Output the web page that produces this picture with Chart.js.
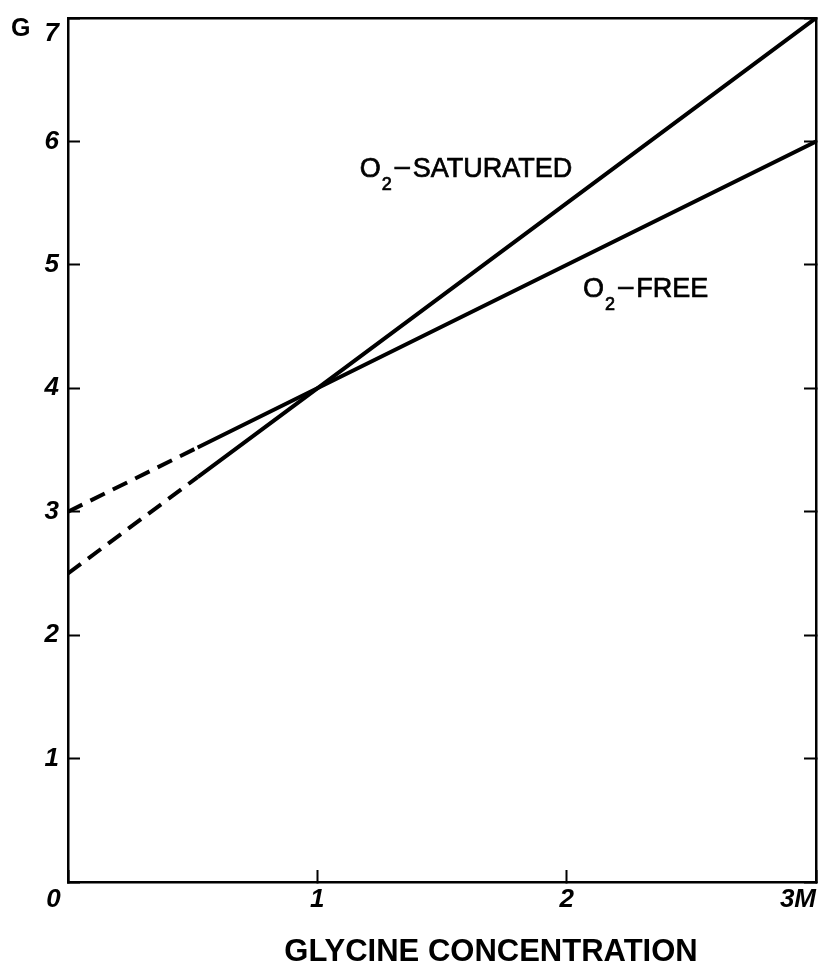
<!DOCTYPE html>
<html>
<head>
<meta charset="utf-8">
<script src="https://cdn.jsdelivr.net/npm/chart.js@4.4.1/dist/chart.umd.min.js"></script>
<style>
  html, body { margin: 0; padding: 0; background: #fff; }
</style>
</head>
<body>
<canvas id="glycineChart" width="819" height="964"></canvas>
<script>
// glycine concentration (M) at the points
const glycine = [0, 0.52, 1, 3];
const gSaturated = [2.5, 3.28, 4, 7];
const gFree = [3, 3.52, 4, 6];
// below this concentration the lines are extrapolated (dashed)
const measuredFrom = 0.52;

const xTickLabels = ['0', '1', '2', '3M'];
const yTickLabels = ['', '1', '2', '3', '4', '5', '6', '7'];

const curveLabels = [
  { text: 'SATURATED', x: 1.17, y: 5.71 },
  { text: 'FREE', x: 2.066, y: 4.74 }
];

const toPoints = ys => glycine.map((g, i) => ({ x: g, y: ys[i] }));

const dashed = ctx => ctx.p1.parsed.x <= measuredFrom ? [16, 9] : undefined;

const tickFont = { family: 'Liberation Sans', size: 26, style: 'italic', weight: 'bold' };

function heavyText(ctx, s, x, y) {
  ctx.fillText(s, x, y);
  ctx.strokeText(s, x, y);
}

const curveText = {
  id: 'curveText',
  afterDraw(chart) {
    const { ctx, scales: { x, y } } = chart;
    ctx.save();
    ctx.fillStyle = '#000';
    ctx.strokeStyle = '#000';
    ctx.lineWidth = 0.7;
    ctx.textBaseline = 'alphabetic';
    ctx.textAlign = 'left';

    ctx.font = 'bold 25px "Liberation Sans"';
    ctx.fillText('G', 11, 36);

    curveLabels.forEach(l => {
      let px = x.getPixelForValue(l.x);
      const py = y.getPixelForValue(l.y);
      ctx.font = '27px "Liberation Sans"';
      heavyText(ctx, 'O', px, py);
      px += ctx.measureText('O').width + 1;
      ctx.font = '18px "Liberation Sans"';
      heavyText(ctx, '2', px, py + 13);
      px += ctx.measureText('2').width + 3;
      ctx.font = '27px "Liberation Sans"';
      heavyText(ctx, '\u2013', px, py - 2);
      px += ctx.measureText('\u2013').width + 3;
      heavyText(ctx, l.text, px, py);
    });

    ctx.font = 'bold 31px "Liberation Sans"';
    ctx.textAlign = 'center';
    ctx.fillText('GLYCINE CONCENTRATION', 491, 961);
    ctx.restore();
  }
};

new Chart(document.getElementById('glycineChart'), {
  type: 'line',
  data: {
    datasets: [
      {
        label: 'O2-saturated',
        data: toPoints(gSaturated),
        segment: { borderDash: dashed }
      },
      {
        label: 'O2-free',
        data: toPoints(gFree),
        segment: { borderDash: dashed }
      }
    ]
  },
  options: {
    responsive: false,
    animation: false,
    events: [],
    layout: { padding: { top: 18, right: 3, left: 0, bottom: 0 } },
    elements: {
      point: { radius: 0 },
      line: { borderColor: '#000', borderWidth: 4, tension: 0, borderCapStyle: 'butt' }
    },
    plugins: {
      legend: { display: false },
      tooltip: { enabled: false }
    },
    scales: {
      x: {
        type: 'linear',
        position: 'bottom',
        min: 0,
        max: 3,
        border: { display: true, color: '#000', width: 2.5 },
        grid: { display: true, drawOnChartArea: false, drawTicks: true, tickLength: -12, tickWidth: 2, tickColor: '#000' },
        ticks: {
          stepSize: 1,
          color: '#000',
          font: tickFont,
          padding: 14,
          maxRotation: 0,
          autoSkip: false,
          // trailing blanks pull the end labels off the corners
          callback: v => {
            const t = xTickLabels[v];
            if (v === 0) return t + '    ';
            if (v === 3) return t + '     ';
            return t;
          }
        },
        afterFit: s => { s.height = 82; s.paddingLeft = 0; s.paddingRight = 0; }
      },
      x2: {
        type: 'linear',
        position: 'top',
        min: 0,
        max: 3,
        border: { display: true, color: '#000', width: 2.5 },
        grid: { display: false },
        ticks: { display: false },
        afterFit: s => { s.height = 0; s.paddingLeft = 0; s.paddingRight = 0; }
      },
      y: {
        type: 'linear',
        position: 'left',
        min: 0,
        max: 7,
        border: { display: true, color: '#000', width: 2.5 },
        grid: { display: true, drawOnChartArea: false, drawTicks: true, tickLength: -12, tickWidth: 2, tickColor: '#000' },
        ticks: {
          stepSize: 1,
          color: '#000',
          font: tickFont,
          padding: 21,
          // the top label sits just below the corner
          callback: v => v === 7 ? ['', yTickLabels[v]] : yTickLabels[v]
        },
        afterFit: s => { s.width = 68; s.paddingTop = 0; s.paddingBottom = 0; }
      },
      y2: {
        type: 'linear',
        position: 'right',
        min: 0,
        max: 7,
        border: { display: true, color: '#000', width: 2.5 },
        grid: { display: true, drawOnChartArea: false, drawTicks: true, tickLength: -12, tickWidth: 2, tickColor: '#000' },
        ticks: { display: false, stepSize: 1 },
        afterFit: s => { s.width = 0; s.paddingTop = 0; s.paddingBottom = 0; }
      }
    }
  },
  plugins: [curveText]
});
</script>
</body>
</html>
